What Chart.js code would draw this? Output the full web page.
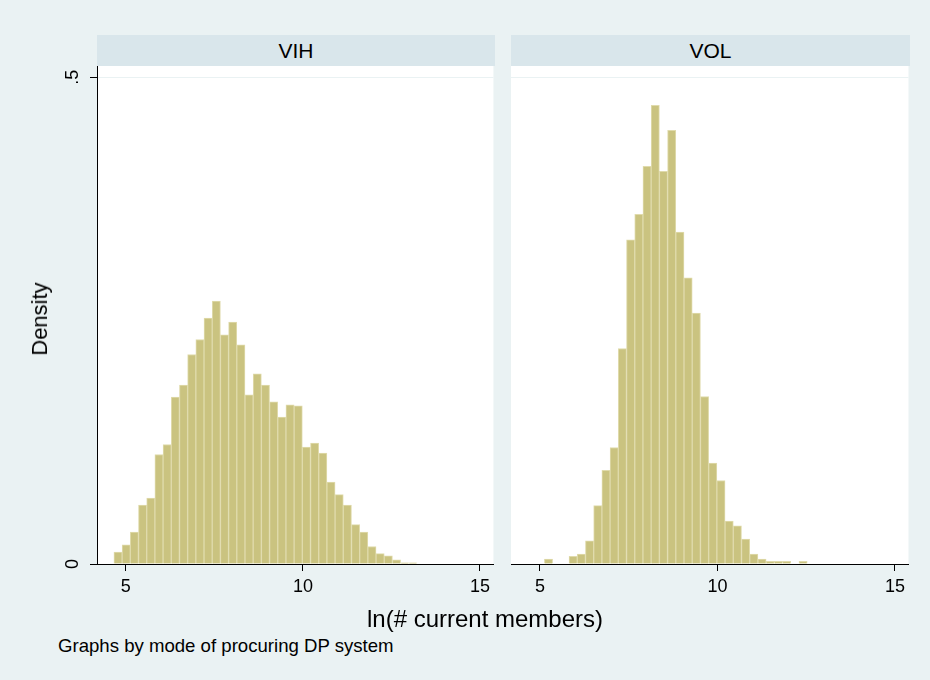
<!DOCTYPE html>
<html>
<head>
<meta charset="utf-8">
<title>ln(# current members) by mode of procuring DP system</title>
<script src="https://cdn.jsdelivr.net/npm/chart.js@4/dist/chart.umd.min.js"></script>
<style>
  *{margin:0;padding:0;box-sizing:border-box}
  html,body{
    width:930px;height:680px;overflow:hidden;
    background:#eaf2f3;
    font-family:'Liberation Sans',Arial,sans-serif;color:#000;
  }
  .strip{
    position:absolute;top:35px;height:31px;
    background:#d9e6eb;
    font-size:21px;line-height:31px;text-align:center;
  }
  canvas{position:absolute;top:0}
  .ytitle{
    position:absolute;left:40px;top:319px;
    transform:translate(-50%,-50%) rotate(-90deg);
    font-size:22px;white-space:nowrap;
  }
  .xtitle{
    position:absolute;left:485px;top:607px;
    transform:translateX(-50%);
    font-size:24px;line-height:1;white-space:nowrap;
  }
  .caption{
    position:absolute;left:58px;top:637px;
    font-size:18.6px;line-height:1;white-space:nowrap;
  }
</style>
</head>
<body>
<div class="strip" style="left:97px;width:398px">VIH</div>
<div class="strip" style="left:511px;width:399px">VOL</div>
<canvas id="vih" width="495" height="610" style="left:0"></canvas>
<canvas id="vol" width="399" height="610" style="left:511px"></canvas>
<div class="ytitle">Density</div>
<div class="xtitle">ln(# current members)</div>
<div class="caption">Graphs by mode of procuring DP system</div>

<script>
// ─── Data ──────────────────────────────────────────────────────

// both panels share one bin grid (left edge of first bin, bin width)
const BIN_START = 4.663;
const BIN_WIDTH = 0.2313;

// density per bin
const vihDensity = [
  0.0123, 0.0198, 0.0329, 0.0606, 0.0678, 0.1125, 0.1228, 0.1715, 0.1838, 0.2152,
  0.2306, 0.2526, 0.2700, 0.2354, 0.2485, 0.2252, 0.1738, 0.1954, 0.1838, 0.1666,
  0.1509, 0.1636, 0.1625, 0.1201, 0.1242, 0.1140, 0.0842, 0.0712, 0.0606, 0.0404,
  0.0329, 0.0180, 0.0106, 0.0085, 0.0044, 0.0013, 0.0013,
];
const volDensity = [
  null, null, 0.0051, null, null, 0.0078, 0.0103, 0.0239, 0.0599, 0.0961,
  0.1197, 0.2214, 0.3330, 0.3593, 0.4086, 0.4712, 0.4035, 0.4456, 0.3409, 0.2939,
  0.2577, 0.1721, 0.1037, 0.0858, 0.0441, 0.0393, 0.0257, 0.0103, 0.0050, 0.0027,
  0.0027, 0.0027, null, 0.0027,
];

const X_TICKS = [5, 10, 15];
const Y_TICKS = [0, 0.5];
const Y_TICK_LABELS = ["0", ".5"];

// ─── Style ─────────────────────────────────────────────────────

const FONT = "'Liberation Sans', Arial, sans-serif";
const BAR_FILL = "rgb(202, 195, 128)";
const BAR_LINE = "rgb(224, 219, 172)";
const X_MIN = 4.185;
const X_MAX = 15.38;
const Y_MAX = 0.5116;

// white plot region behind the bars
const plotBg = {
  id: "plotBg",
  beforeDraw(chart) {
    const { ctx, chartArea: a } = chart;
    ctx.save();
    ctx.fillStyle = "#fff";
    ctx.fillRect(a.left, a.top, a.right - a.left, a.bottom - a.top);
    ctx.restore();
  },
};

// Stata-style vertical y labels (read bottom to top)
const yLabels = {
  id: "yLabels",
  afterDraw(chart) {
    const { ctx } = chart;
    const y = chart.scales.y;
    ctx.save();
    ctx.fillStyle = "#000";
    ctx.font = "18px " + FONT;
    ctx.textAlign = "center";
    ctx.textBaseline = "middle";
    Y_TICKS.forEach((v, i) => {
      ctx.save();
      ctx.translate(y.right - 24, y.getPixelForValue(v));
      ctx.rotate(-Math.PI / 2);
      ctx.fillText(Y_TICK_LABELS[i], 0, 0);
      ctx.restore();
    });
    ctx.restore();
  },
};

// ─── Panels ────────────────────────────────────────────────────

function makePanel(id, values, showY) {
  const points = values.map((v, i) => ({ x: BIN_START + (i + 0.5) * BIN_WIDTH, y: v }));

  return new Chart(document.getElementById(id), {
    type: "bar",
    data: {
      datasets: [{
        data: points,
        backgroundColor: BAR_FILL,
        borderColor: BAR_LINE,
        borderWidth: 1,
        borderSkipped: "start",
        barPercentage: 1,
        categoryPercentage: 1,
      }],
    },
    options: {
      responsive: false,
      animation: false,
      devicePixelRatio: 1,
      layout: { padding: { top: 66, left: 0, right: 0, bottom: 0 } },
      plugins: { legend: { display: false }, tooltip: { enabled: false } },
      scales: {
        x: {
          type: "linear",
          min: X_MIN,
          max: X_MAX,
          offset: false,
          afterBuildTicks: (s) => { s.ticks = X_TICKS.map((value) => ({ value })); },
          afterFit: (s) => { s.height = 46; },
          grid: { offset: false, drawOnChartArea: false, drawTicks: true, tickLength: 7, tickColor: "#000" },
          border: { display: true, color: "#000", width: 1 },
          ticks: { color: "#000", font: { size: 18, family: FONT }, padding: 5, maxRotation: 0 },
        },
        y: {
          min: 0,
          max: Y_MAX,
          afterBuildTicks: (s) => { s.ticks = Y_TICKS.map((value) => ({ value })); },
          afterFit: (s) => { s.width = showY ? 97 : 0; },
          grid: {
            color: (c) => (c.tick && c.tick.value > 0 ? "#eaf2f3" : "rgba(0,0,0,0)"),
            drawTicks: showY,
            tickLength: 7,
            tickColor: "#000",
          },
          border: { display: showY, color: "#000", width: 1 },
          ticks: { display: false },
        },
      },
    },
    plugins: showY ? [plotBg, yLabels] : [plotBg],
  });
}

makePanel("vih", vihDensity, true);
makePanel("vol", volDensity, false);
</script>
</body>
</html>
